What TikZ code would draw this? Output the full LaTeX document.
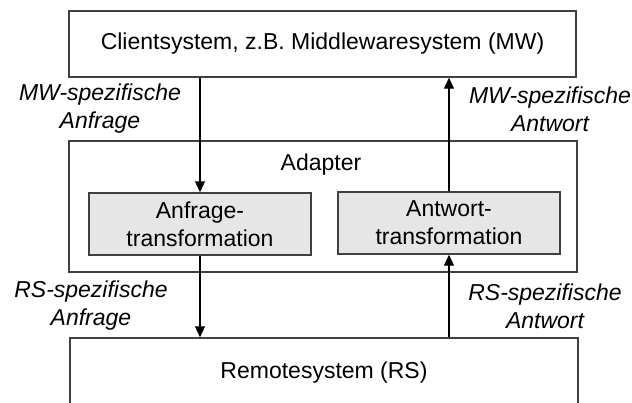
\documentclass[tikz,border=0pt]{standalone}
\usepackage{fontspec}
\setmainfont{Liberation Sans}
\usetikzlibrary{arrows.meta,calc}
\definecolor{edge}{HTML}{404040}
\definecolor{boxfill}{HTML}{E6E6E6}
\begin{document}
\begin{tikzpicture}[x=1pt,y=-1pt,
  every node/.style={font=\fontsize{23}{28}\selectfont, text=black, inner sep=0pt},
  frame/.style={draw=edge, line width=1.4pt, fill=white},
  transbox/.style={draw=edge, line width=1.4pt, fill=boxfill, align=center},
  flow/.style={draw=black, line width=1.1pt, -{Triangle[width=10pt,length=11pt]}},
  msg/.style={font=\fontsize{23}{28}\selectfont\itshape, align=center}]
  \useasboundingbox (0,0) rectangle (632,403);
  \clip (0,0) rectangle (632,403);
  \fill[white] (0,0) rectangle (632,403);

  % systems and adapter frame
  \node[frame, minimum width=507pt, minimum height=66pt] (client) at (322.5,44) {Clientsystem, z.B. Middlewaresystem (MW)};
  \node[frame, minimum width=508pt, minimum height=131pt] (adapter) at (323,206.5) {};
  \node (adlabel) at (321,165) {Adapter};
  \node[frame, minimum width=508pt, minimum height=70pt] (remote) at (324,373) {Remotesystem (RS)};

  % transformation steps
  \node[transbox, minimum width=222pt, minimum height=62pt] (anf) at (200,224) {Anfrage-\\transformation};
  \node[transbox, minimum width=222pt, minimum height=62pt] (antw) at (449,223) {Antwort-\\transformation};

  % request path
  \draw[flow] (client.south -| anf.north) -- (anf.north);
  \draw[flow] (anf.south) -- (remote.north -| anf.south);
  % response path
  \draw[flow] (remote.north -| antw.south) -- (antw.south);
  \draw[flow] (antw.north) -- (client.south -| antw.north);

  % message labels
  \node[msg] (mwreq) at (100,109) {MW-spezifische\\Anfrage};
  \node[msg] (mwres) at (550,109) {MW-spezifische\\Antwort};
  \node[msg] (rsreq) at (91,306) {RS-spezifische\\Anfrage};
  \node[msg] (rsres) at (545,306) {RS-spezifische\\Antwort};
\end{tikzpicture}
\end{document}
